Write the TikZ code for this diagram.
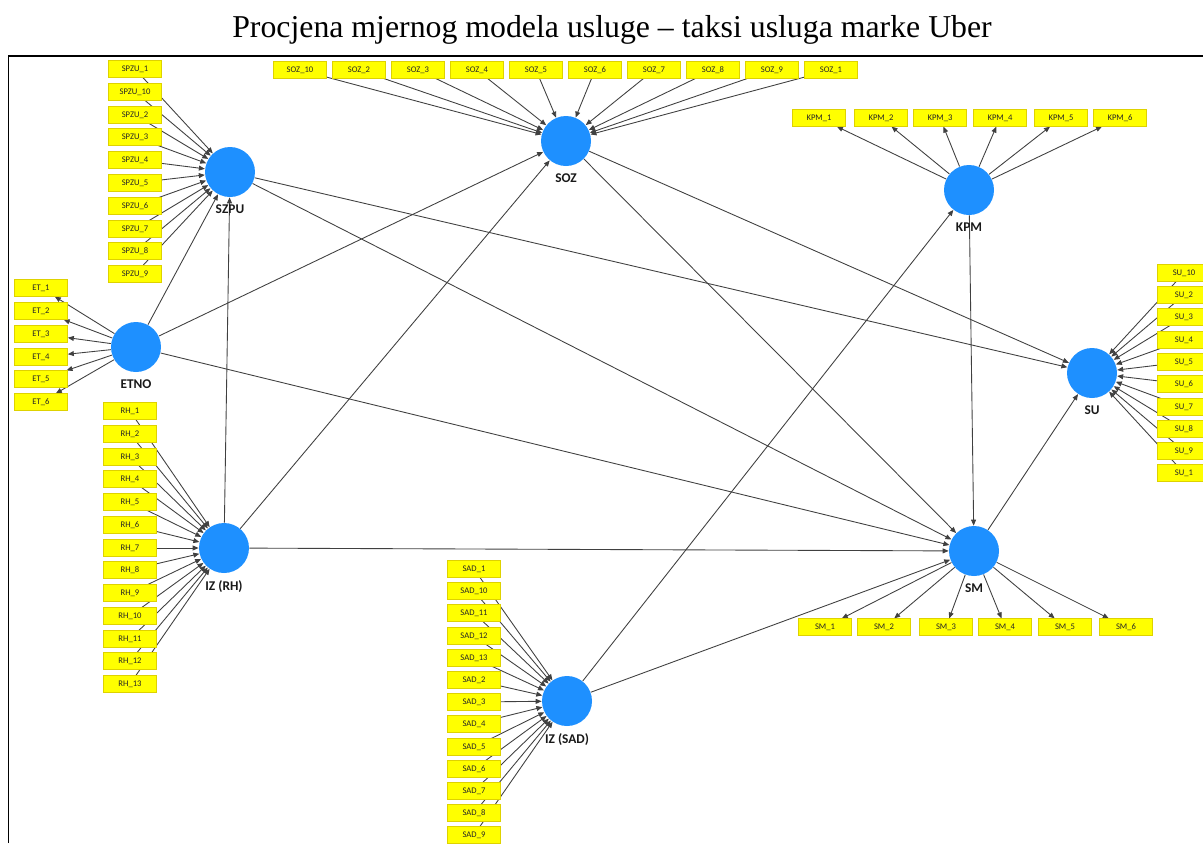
\documentclass[tikz,border=0pt]{standalone}
\usepackage{fontspec}
\setmainfont{Liberation Serif}
\newfontfamily\plsfont{Carlito}
\usetikzlibrary{positioning,arrows.meta,backgrounds}

\definecolor{lvblue}{RGB}{30,144,255}
\definecolor{mvyellow}{RGB}{255,255,0}
\definecolor{mvborder}{RGB}{222,210,0}

\tikzset{
	lv/.style={circle, fill=lvblue, minimum size=1cm, inner sep=0pt},
	lvname/.style={font=\plsfont\bfseries\fontsize{7.6}{8}\selectfont, text=black!90, inner sep=0pt},
	mv/.style={draw=mvborder, fill=mvyellow, thin, minimum width=1.06cm, minimum height=0.33cm, inner sep=0pt, font=\plsfont\fontsize{4.9}{5}\selectfont, text=black!85},
	link/.style={draw=black!75, line width=0.5pt, -{Triangle[length=3.4pt,width=2.8pt]}},
}

\begin{document}
\begin{tikzpicture}[x=0.02cm, y=-0.02cm]

	\useasboundingbox (0,0) rectangle (1203,843);

	\node[font=\fontsize{18.1}{22}\selectfont, anchor=base] (title) at (612,37) {Procjena mjernog modela usluge – taksi usluga marke Uber};
	\draw[black, line width=1.1pt] (8.5,843) -- (8.5,56) -- (1203,56);

	\node[lv] (SZPU) at (230,172) {};
	\node[lv] (SOZ) at (566,141) {};
	\node[lv] (KPM) at (969,190) {};
	\node[lv] (SU) at (1092,373) {};
	\node[lv] (ETNO) at (136,347) {};
	\node[lv] (IZRH) at (224,548) {};
	\node[lv] (IZSAD) at (567,701) {};
	\node[lv] (SM) at (974,551) {};

	\node[lvname, below=4pt of SZPU] (SZPU-t) {SZPU};
	\node[lvname, below=4pt of SOZ] (SOZ-t) {SOZ};
	\node[lvname, below=4pt of KPM] (KPM-t) {KPM};
	\node[lvname, below=4pt of SU] (SU-t) {SU};
	\node[lvname, below=4pt of ETNO] (ETNO-t) {ETNO};
	\node[lvname, below=4pt of IZRH] (IZRH-t) {IZ (RH)};
	\node[lvname, below=4pt of IZSAD] (IZSAD-t) {IZ (SAD)};
	\node[lvname, below=4pt of SM] (SM-t) {SM};

	\node[mv] (spzu1) at (135,69) {SPZU\_1};
	\node[mv] (spzu10) at (135,92) {SPZU\_10};
	\node[mv] (spzu2) at (135,115) {SPZU\_2};
	\node[mv] (spzu3) at (135,137) {SPZU\_3};
	\node[mv] (spzu4) at (135,160) {SPZU\_4};
	\node[mv] (spzu5) at (135,183) {SPZU\_5};
	\node[mv] (spzu6) at (135,206) {SPZU\_6};
	\node[mv] (spzu7) at (135,229) {SPZU\_7};
	\node[mv] (spzu8) at (135,251) {SPZU\_8};
	\node[mv] (spzu9) at (135,274) {SPZU\_9};

	\node[mv] (soz10) at (300,70) {SOZ\_10};
	\node[mv] (soz2) at (359,70) {SOZ\_2};
	\node[mv] (soz3) at (418,70) {SOZ\_3};
	\node[mv] (soz4) at (477,70) {SOZ\_4};
	\node[mv] (soz5) at (536,70) {SOZ\_5};
	\node[mv] (soz6) at (595,70) {SOZ\_6};
	\node[mv] (soz7) at (654,70) {SOZ\_7};
	\node[mv] (soz8) at (713,70) {SOZ\_8};
	\node[mv] (soz9) at (772,70) {SOZ\_9};
	\node[mv] (soz1) at (831,70) {SOZ\_1};

	\node[mv] (kpm1) at (819,118) {KPM\_1};
	\node[mv] (kpm2) at (881,118) {KPM\_2};
	\node[mv] (kpm3) at (940,118) {KPM\_3};
	\node[mv] (kpm4) at (1000,118) {KPM\_4};
	\node[mv] (kpm5) at (1061,118) {KPM\_5};
	\node[mv] (kpm6) at (1120,118) {KPM\_6};

	\node[mv] (su10) at (1184,273) {SU\_10};
	\node[mv] (su2) at (1184,295) {SU\_2};
	\node[mv] (su3) at (1184,317) {SU\_3};
	\node[mv] (su4) at (1184,340) {SU\_4};
	\node[mv] (su5) at (1184,362) {SU\_5};
	\node[mv] (su6) at (1184,384) {SU\_6};
	\node[mv] (su7) at (1184,407) {SU\_7};
	\node[mv] (su8) at (1184,429) {SU\_8};
	\node[mv] (su9) at (1184,451) {SU\_9};
	\node[mv] (su1) at (1184,473) {SU\_1};

	\node[mv] (et1) at (41,288) {ET\_1};
	\node[mv] (et2) at (41,311) {ET\_2};
	\node[mv] (et3) at (41,334) {ET\_3};
	\node[mv] (et4) at (41,357) {ET\_4};
	\node[mv] (et5) at (41,379) {ET\_5};
	\node[mv] (et6) at (41,402) {ET\_6};

	\node[mv] (rh1) at (130,411) {RH\_1};
	\node[mv] (rh2) at (130,434) {RH\_2};
	\node[mv] (rh3) at (130,457) {RH\_3};
	\node[mv] (rh4) at (130,479) {RH\_4};
	\node[mv] (rh5) at (130,502) {RH\_5};
	\node[mv] (rh6) at (130,525) {RH\_6};
	\node[mv] (rh7) at (130,548) {RH\_7};
	\node[mv] (rh8) at (130,570) {RH\_8};
	\node[mv] (rh9) at (130,593) {RH\_9};
	\node[mv] (rh10) at (130,616) {RH\_10};
	\node[mv] (rh11) at (130,639) {RH\_11};
	\node[mv] (rh12) at (130,661) {RH\_12};
	\node[mv] (rh13) at (130,684) {RH\_13};

	\node[mv] (sad1) at (474,569) {SAD\_1};
	\node[mv] (sad10) at (474,591) {SAD\_10};
	\node[mv] (sad11) at (474,613) {SAD\_11};
	\node[mv] (sad12) at (474,636) {SAD\_12};
	\node[mv] (sad13) at (474,658) {SAD\_13};
	\node[mv] (sad2) at (474,680) {SAD\_2};
	\node[mv] (sad3) at (474,702) {SAD\_3};
	\node[mv] (sad4) at (474,724) {SAD\_4};
	\node[mv] (sad5) at (474,747) {SAD\_5};
	\node[mv] (sad6) at (474,769) {SAD\_6};
	\node[mv] (sad7) at (474,791) {SAD\_7};
	\node[mv] (sad8) at (474,813) {SAD\_8};
	\node[mv] (sad9) at (474,835) {SAD\_9};

	\node[mv] (sm1) at (825,627) {SM\_1};
	\node[mv] (sm2) at (884,627) {SM\_2};
	\node[mv] (sm3) at (946,627) {SM\_3};
	\node[mv] (sm4) at (1005,627) {SM\_4};
	\node[mv] (sm5) at (1065,627) {SM\_5};
	\node[mv] (sm6) at (1126,627) {SM\_6};

	\begin{scope}[on background layer]
	\path (ETNO) edge[link] (SZPU) (ETNO) edge[link] (SOZ) (ETNO) edge[link] (SM)
		(IZRH) edge[link] (SZPU) (IZRH) edge[link] (SOZ) (IZRH) edge[link] (SM)
		(SZPU) edge[link] (SU) (SZPU) edge[link] (SM)
		(SOZ) edge[link] (SU) (SOZ) edge[link] (SM)
		(IZSAD) edge[link] (KPM) (IZSAD) edge[link] (SM)
		(KPM) edge[link] (SM) (SM) edge[link] (SU);

	\path (spzu1) edge[link] (SZPU) (spzu10) edge[link] (SZPU) (spzu2) edge[link] (SZPU)
		(spzu3) edge[link] (SZPU) (spzu4) edge[link] (SZPU) (spzu5) edge[link] (SZPU)
		(spzu6) edge[link] (SZPU) (spzu7) edge[link] (SZPU) (spzu8) edge[link] (SZPU)
		(spzu9) edge[link] (SZPU);
	\path (soz10) edge[link] (SOZ) (soz2) edge[link] (SOZ) (soz3) edge[link] (SOZ)
		(soz4) edge[link] (SOZ) (soz5) edge[link] (SOZ) (soz6) edge[link] (SOZ)
		(soz7) edge[link] (SOZ) (soz8) edge[link] (SOZ) (soz9) edge[link] (SOZ)
		(soz1) edge[link] (SOZ);
	\path (KPM) edge[link] (kpm1) (KPM) edge[link] (kpm2) (KPM) edge[link] (kpm3)
		(KPM) edge[link] (kpm4) (KPM) edge[link] (kpm5) (KPM) edge[link] (kpm6);
	\path (su10) edge[link] (SU) (su2) edge[link] (SU) (su3) edge[link] (SU)
		(su4) edge[link] (SU) (su5) edge[link] (SU) (su6) edge[link] (SU)
		(su7) edge[link] (SU) (su8) edge[link] (SU) (su9) edge[link] (SU)
		(su1) edge[link] (SU);
	\path (ETNO) edge[link] (et1) (ETNO) edge[link] (et2) (ETNO) edge[link] (et3)
		(ETNO) edge[link] (et4) (ETNO) edge[link] (et5) (ETNO) edge[link] (et6);
	\path (rh1) edge[link] (IZRH) (rh2) edge[link] (IZRH) (rh3) edge[link] (IZRH)
		(rh4) edge[link] (IZRH) (rh5) edge[link] (IZRH) (rh6) edge[link] (IZRH)
		(rh7) edge[link] (IZRH) (rh8) edge[link] (IZRH) (rh9) edge[link] (IZRH)
		(rh10) edge[link] (IZRH) (rh11) edge[link] (IZRH) (rh12) edge[link] (IZRH)
		(rh13) edge[link] (IZRH);
	\path (sad1) edge[link] (IZSAD) (sad10) edge[link] (IZSAD) (sad11) edge[link] (IZSAD)
		(sad12) edge[link] (IZSAD) (sad13) edge[link] (IZSAD) (sad2) edge[link] (IZSAD)
		(sad3) edge[link] (IZSAD) (sad4) edge[link] (IZSAD) (sad5) edge[link] (IZSAD)
		(sad6) edge[link] (IZSAD) (sad7) edge[link] (IZSAD) (sad8) edge[link] (IZSAD)
		(sad9) edge[link] (IZSAD);
	\path (SM) edge[link] (sm1) (SM) edge[link] (sm2) (SM) edge[link] (sm3)
		(SM) edge[link] (sm4) (SM) edge[link] (sm5) (SM) edge[link] (sm6);
	\end{scope}

\end{tikzpicture}
\end{document}
